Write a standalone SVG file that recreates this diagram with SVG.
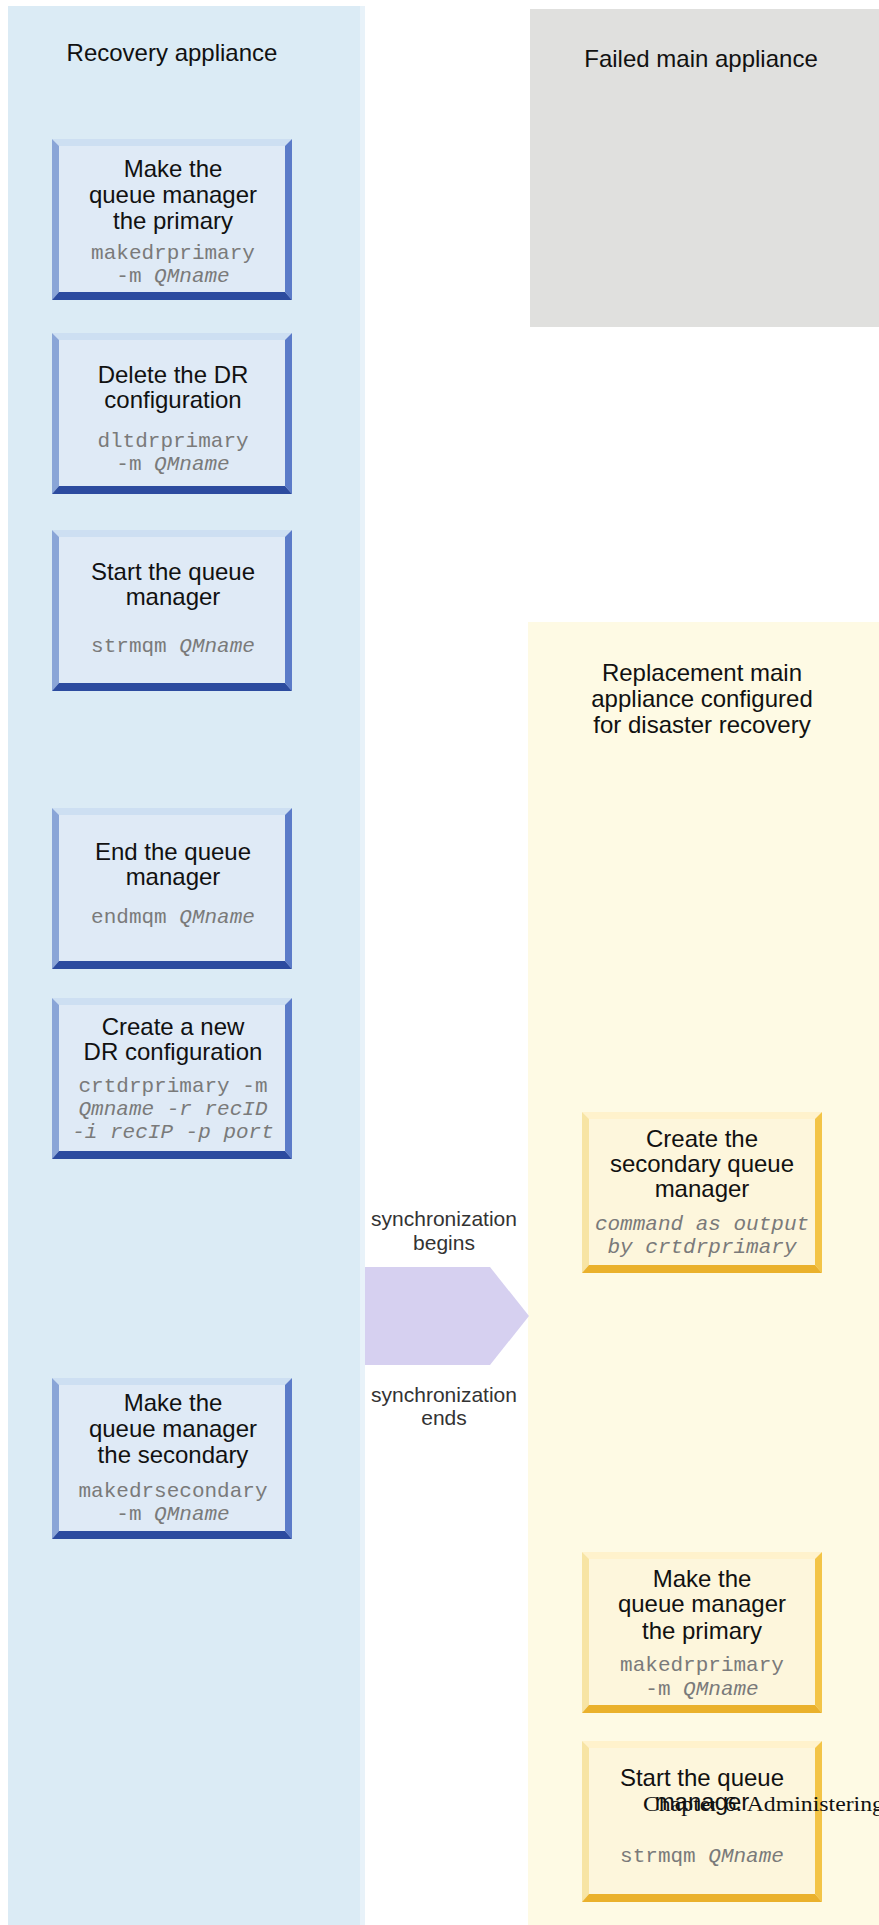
<svg xmlns="http://www.w3.org/2000/svg" xmlns:xlink="http://www.w3.org/1999/xlink" width="879" height="1925" viewBox="0 0 879 1925">
  <style>
    .lane-title{font-family:"Liberation Sans",Arial,sans-serif;font-size:24px;fill:#111;text-anchor:middle}
    .step{font-family:"Liberation Sans",Arial,sans-serif;font-size:24px;fill:#111;text-anchor:middle}
    .cmd{font-family:"Liberation Mono","Courier New",monospace;font-size:21px;fill:#7a7a7a;text-anchor:middle}
    .it{font-style:italic}
    .sync{font-family:"Liberation Sans",Arial,sans-serif;font-size:21px;fill:#333;text-anchor:middle}
    .folio{font-family:"Liberation Serif","Times New Roman",serif;font-size:21px;fill:#111}
  </style>
  <defs>
    <!-- bevelled step box, blue variant (240 x 161) -->
    <g id="bevel-blue">
      <rect x="0" y="0" width="240" height="161" fill="#dfeaf6"/>
      <polygon points="0,0 240,0 233,7 7,7" fill="#cddff2"/>
      <polygon points="0,0 7,7 7,153 0,161" fill="#8aa5d7"/>
      <polygon points="240,0 240,161 233,153 233,7" fill="#5b7bc8"/>
      <polygon points="0,161 240,161 233,153 7,153" fill="#2c4b9f"/>
    </g>
    <!-- bevelled step box, gold variant (240 x 161) -->
    <g id="bevel-gold">
      <rect x="0" y="0" width="240" height="161" fill="#fdf6dc"/>
      <polygon points="0,0 240,0 233,7 7,7" fill="#fff2cc"/>
      <polygon points="0,0 7,7 7,153 0,161" fill="#f7e4a4"/>
      <polygon points="240,0 240,161 233,153 233,7" fill="#f3c447"/>
      <polygon points="0,161 240,161 233,153 7,153" fill="#eab12c"/>
    </g>
  </defs>

  <rect width="879" height="1925" fill="#ffffff"/>

  <!-- swimlanes -->
  <g id="lane-recovery">
    <rect x="8" y="6" width="354" height="1919" fill="#dbebf5"/>
    <rect x="360" y="6" width="5" height="1919" fill="#e8f2f9"/>
    <text class="lane-title" x="172" y="61">Recovery appliance</text>
  </g>
  <g id="lane-failed">
    <rect x="530" y="9" width="349" height="318" fill="#e0e0de"/>
    <text class="lane-title" x="701" y="67">Failed main appliance</text>
  </g>
  <g id="lane-replacement">
    <rect x="528" y="622" width="351" height="1303" fill="#fefae4"/>
    <text class="lane-title" x="702" y="681">Replacement main</text>
    <text class="lane-title" x="702" y="707">appliance configured</text>
    <text class="lane-title" x="702" y="733">for disaster recovery</text>
  </g>

  <!-- recovery appliance steps -->
  <g id="step-make-primary-rec">
    <use xlink:href="#bevel-blue" x="52" y="139"/>
    <text class="step" x="173" y="177">Make the</text>
    <text class="step" x="173" y="203">queue manager</text>
    <text class="step" x="173" y="229">the primary</text>
    <text class="cmd" x="173" y="259">makedrprimary</text>
    <text class="cmd" x="173" y="282">-m <tspan class="it">QMname</tspan></text>
  </g>
  <g id="step-delete-dr">
    <use xlink:href="#bevel-blue" x="52" y="333"/>
    <text class="step" x="173" y="383">Delete the DR</text>
    <text class="step" x="173" y="408">configuration</text>
    <text class="cmd" x="173" y="447">dltdrprimary</text>
    <text class="cmd" x="173" y="470">-m <tspan class="it">QMname</tspan></text>
  </g>
  <g id="step-start-rec">
    <use xlink:href="#bevel-blue" x="52" y="530"/>
    <text class="step" x="173" y="580">Start the queue</text>
    <text class="step" x="173" y="605">manager</text>
    <text class="cmd" x="173" y="652">strmqm <tspan class="it">QMname</tspan></text>
  </g>
  <g id="step-end-rec">
    <use xlink:href="#bevel-blue" x="52" y="808"/>
    <text class="step" x="173" y="860">End the queue</text>
    <text class="step" x="173" y="885">manager</text>
    <text class="cmd" x="173" y="923">endmqm <tspan class="it">QMname</tspan></text>
  </g>
  <g id="step-create-dr">
    <use xlink:href="#bevel-blue" x="52" y="998"/>
    <text class="step" x="173" y="1035">Create a new</text>
    <text class="step" x="173" y="1060">DR configuration</text>
    <text class="cmd" x="173" y="1092">crtdrprimary -m</text>
    <text class="cmd it" x="173" y="1115">Qmname -r recID</text>
    <text class="cmd it" x="173" y="1138">-i recIP -p port</text>
  </g>
  <g id="step-make-secondary-rec">
    <use xlink:href="#bevel-blue" x="52" y="1378"/>
    <text class="step" x="173" y="1411">Make the</text>
    <text class="step" x="173" y="1437">queue manager</text>
    <text class="step" x="173" y="1463">the secondary</text>
    <text class="cmd" x="173" y="1497">makedrsecondary</text>
    <text class="cmd" x="173" y="1520">-m <tspan class="it">QMname</tspan></text>
  </g>

  <!-- replacement appliance steps -->
  <g id="step-create-secondary">
    <use xlink:href="#bevel-gold" x="582" y="1112"/>
    <text class="step" x="702" y="1147">Create the</text>
    <text class="step" x="702" y="1172">secondary queue</text>
    <text class="step" x="702" y="1197">manager</text>
    <text class="cmd it" x="702" y="1230">command as output</text>
    <text class="cmd it" x="702" y="1253">by crtdrprimary</text>
  </g>
  <g id="step-make-primary-main">
    <use xlink:href="#bevel-gold" x="582" y="1552"/>
    <text class="step" x="702" y="1587">Make the</text>
    <text class="step" x="702" y="1612">queue manager</text>
    <text class="step" x="702" y="1639">the primary</text>
    <text class="cmd" x="702" y="1671">makedrprimary</text>
    <text class="cmd" x="702" y="1695">-m <tspan class="it">QMname</tspan></text>
  </g>
  <g id="step-start-main">
    <use xlink:href="#bevel-gold" x="582" y="1741"/>
    <text class="step" x="702" y="1786">Start the queue</text>
    <text class="step" x="702" y="1810">manager</text>
    <text class="cmd" x="702" y="1862">strmqm <tspan class="it">QMname</tspan></text>
  </g>

  <!-- synchronization connector between the appliances -->
  <g id="connectors">
    <polygon points="365,1267 490,1267 529,1316 490,1365 365,1365" fill="#d6d0f0"/>
    <text class="sync" x="444" y="1226">synchronization</text>
    <text class="sync" x="444" y="1250">begins</text>
    <text class="sync" x="444" y="1402">synchronization</text>
    <text class="sync" x="444" y="1425">ends</text>
  </g>

  <!-- running page footer -->
  <text class="folio" x="643" y="1811" textLength="241" lengthAdjust="spacingAndGlyphs">Chapter 6. Administering</text>
</svg>
